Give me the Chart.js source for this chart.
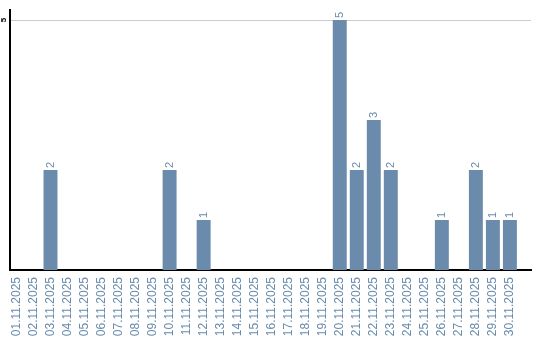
<!DOCTYPE html>
<html>
<head>
<meta charset="utf-8">
<script src="https://cdn.jsdelivr.net/npm/chart.js@4/dist/chart.umd.min.js"></script>
<style>
  html,body{margin:0;padding:0;background:#fff;}
  #wrap{width:540px;height:340px;}
</style>
</head>
<body>
<div id="wrap"><canvas id="chart" width="540" height="340"></canvas></div>
<script>
// --------- DATA ----------
const days = ['01.11.2025','02.11.2025','03.11.2025','04.11.2025','05.11.2025','06.11.2025','07.11.2025','08.11.2025','09.11.2025','10.11.2025',
  '11.11.2025','12.11.2025','13.11.2025','14.11.2025','15.11.2025','16.11.2025','17.11.2025','18.11.2025','19.11.2025','20.11.2025',
  '21.11.2025','22.11.2025','23.11.2025','24.11.2025','25.11.2025','26.11.2025','27.11.2025','28.11.2025','29.11.2025','30.11.2025'];
const counts = [0,0,2,0,0,0,0,0,0,2, 0,1,0,0,0,0,0,0,0,5, 2,3,2,0,0,1,0,2,1,1];
const yTicks = [5];

// --------- HELPERS ----------
const barColor = '#6a8bab';
const fontFam = '"Liberation Sans", Arial, sans-serif';
const points = counts.map((v,i)=>({x:i+1, y:v}));

function drawRotated(ctx, text, x, y, align){
  ctx.save();
  ctx.translate(x, y);
  ctx.rotate(-Math.PI/2);
  ctx.textAlign = align;
  ctx.fillText(text, 0, 0);
  ctx.restore();
}

// value labels on top of the bars + rotated y tick labels
const extraLabels = {
  id:'extraLabels',
  afterDatasetsDraw(chart){
    const ctx = chart.ctx;
    const meta = chart.getDatasetMeta(0);
    ctx.save();
    ctx.textBaseline = 'middle';
    ctx.fillStyle = barColor;
    ctx.font = '11px ' + fontFam;
    meta.data.forEach((bar,i)=>{
      if(counts[i]) drawRotated(ctx, String(counts[i]), bar.x, bar.y - 2, 'left');
    });
    const ys = chart.scales.y;
    ctx.fillStyle = '#000';
    ctx.font = 'bold 8px ' + fontFam;
    yTicks.forEach(v=>{
      drawRotated(ctx, String(v), ys.left + 4, ys.getPixelForValue(v), 'center');
    });
    ctx.restore();
  }
};

// --------- CHART ----------
new Chart(document.getElementById('chart'), {
  type:'bar',
  data:{
    datasets:[{data:points, backgroundColor:barColor, borderWidth:0, barPercentage:0.82, categoryPercentage:1}]
  },
  options:{
    responsive:false,
    maintainAspectRatio:false,
    animation:false,
    layout:{padding:{top:10, right:9, left:0, bottom:0}},
    plugins:{legend:{display:false}, tooltip:{enabled:false}},
    scales:{
      x:{
        type:'linear',
        offset:false,
        min:0.62, max:31.24,
        afterBuildTicks(axis){ axis.ticks = days.map((d,i)=>({value:i+1})); },
        afterFit(axis){ axis.height = 70; },
        ticks:{
          color:barColor, autoSkip:false, minRotation:90, maxRotation:90, padding:7,
          font:{family:fontFam, size:12},
          callback:(v)=>days[v-1]
        },
        grid:{display:false, drawTicks:false},
        border:{color:'#000', width:2}
      },
      y:{
        min:0, max:5.2,
        afterBuildTicks(axis){ axis.ticks = yTicks.map(v=>({value:v})); },
        afterFit(axis){ axis.width = 10; },
        ticks:{display:false},
        grid:{color:'#cccccc', drawTicks:false},
        border:{color:'#000', width:2}
      }
    }
  },
  plugins:[extraLabels]
});
</script>
</body>
</html>
